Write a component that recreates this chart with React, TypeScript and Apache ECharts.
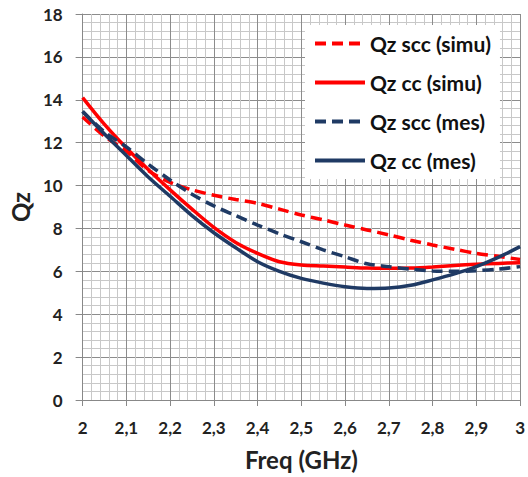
import React, { useEffect, useRef } from "react";
import * as echarts from "echarts";

const freq = [2.0, 2.05, 2.1, 2.15, 2.2, 2.25, 2.3, 2.35, 2.4, 2.45, 2.5, 2.55, 2.6, 2.65, 2.7, 2.75, 2.8, 2.85, 2.9, 2.95, 3.0];
const qzSccSimu = [13.2, 12.3, 11.6, 10.7, 10.15, 9.8, 9.55, 9.35, 9.17, 8.9, 8.63, 8.4, 8.16, 7.93, 7.7, 7.45, 7.23, 7.03, 6.84, 6.7, 6.55];
const qzCcSimu = [14.1, 12.85, 11.75, 10.75, 9.8, 8.9, 8.05, 7.35, 6.84, 6.45, 6.3, 6.25, 6.2, 6.15, 6.14, 6.15, 6.2, 6.27, 6.33, 6.37, 6.4];
const qzSccMes = [13.45, 12.5, 11.8, 11.0, 10.26, 9.6, 9.05, 8.6, 8.16, 7.75, 7.38, 7.0, 6.68, 6.35, 6.22, 6.1, 6.02, 6.0, 6.03, 6.1, 6.22];
const qzCcMes = [13.45, 12.4, 11.4, 10.4, 9.5, 8.6, 7.8, 7.1, 6.45, 6.0, 5.67, 5.45, 5.28, 5.2, 5.22, 5.35, 5.6, 5.88, 6.22, 6.65, 7.15];

const seriesNames = ["Qz scc (simu)", "Qz cc (simu)", "Qz scc (mes)", "Qz cc (mes)"];
const RED = "#FF0000";
const NAVY = "#1F3A64";
const FONT = "Lato";

export default function App() {
  const ref = useRef<HTMLDivElement>(null);
  useEffect(() => {
    if (!ref.current) return;
    const chart = echarts.init(ref.current, null, { renderer: "svg" });
    const mk = (name: string, vals: number[], color: string, dashed: boolean) => ({
      name,
      type: "line",
      data: freq.map((f, i) => [f, vals[i]]),
      smooth: 0.3,
      symbol: "none",
      lineStyle: { color, width: 3.5, type: dashed ? [11, 6] : "solid" },
      itemStyle: { color },
    });
    chart.setOption({
      animation: false,
      backgroundColor: "#fff",
      grid: { left: 82, right: 4, top: 14, bottom: 77 },
      legend: {
        orient: "vertical",
        left: 305,
        top: 25,
        backgroundColor: "#fff",
        padding: [6, 9, 6, 8],
        itemWidth: 50,
        itemHeight: 14,
        itemGap: 14,
        itemStyle: { opacity: 0 },
        lineStyle: { width: 4 },
        data: seriesNames,
        textStyle: { fontFamily: FONT, fontWeight: "bold", fontSize: 21, color: "#111", lineHeight: 25 },
      },
      xAxis: {
        type: "value",
        min: 2,
        max: 3,
        interval: 0.1,
        name: "Freq (GHz)",
        nameLocation: "middle",
        nameGap: 47,
        nameTextStyle: { fontFamily: FONT, fontWeight: "bold", fontSize: 24, color: "#222" },
        axisLine: { show: true, lineStyle: { color: "#888", width: 1 } },
        axisTick: { show: true, length: 6, lineStyle: { color: "#888" } },
        axisLabel: {
          margin: 19,
          fontFamily: FONT,
          fontWeight: "bold",
          fontSize: 17,
          color: "#222",
          formatter: (v: number) => String(Math.round(v * 10) / 10).replace(".", ","),
        },
        splitLine: { show: true, lineStyle: { color: "#8c8c8c", width: 1 } },
        minorTick: { show: false, splitNumber: 5 },
        minorSplitLine: { show: true, lineStyle: { color: "#c8c8c8", width: 1 } },
      },
      yAxis: {
        type: "value",
        min: 0,
        max: 18,
        interval: 2,
        name: "Qz",
        nameLocation: "middle",
        nameGap: 46,
        nameTextStyle: { fontFamily: FONT, fontWeight: "bold", fontSize: 24, color: "#222" },
        axisLine: { show: true, lineStyle: { color: "#888", width: 1 } },
        axisTick: { show: true, length: 7, lineStyle: { color: "#888" } },
        axisLabel: { margin: 20, fontFamily: FONT, fontWeight: "bold", fontSize: 17, color: "#222" },
        splitLine: { show: true, lineStyle: { color: "#8c8c8c", width: 1 } },
        minorTick: { show: false, splitNumber: 5 },
        minorSplitLine: { show: true, lineStyle: { color: "#c8c8c8", width: 1 } },
      },
      series: [
        mk(seriesNames[0], qzSccSimu, RED, true),
        mk(seriesNames[1], qzCcSimu, RED, false),
        mk(seriesNames[2], qzSccMes, NAVY, true),
        mk(seriesNames[3], qzCcMes, NAVY, false),
      ],
    });
    return () => chart.dispose();
  }, []);
  return <div ref={ref} style={{ position: "fixed", left: 0, top: 0, width: 528, height: 477 }} />;
}
